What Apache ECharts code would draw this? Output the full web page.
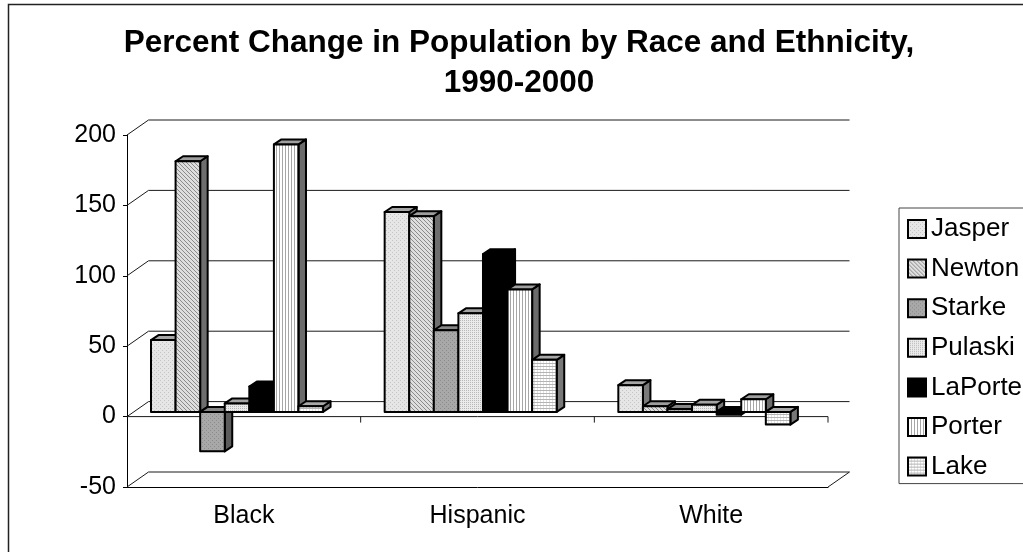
<!DOCTYPE html>
<html>
<head>
<meta charset="utf-8">
<script src="https://cdn.jsdelivr.net/npm/echarts@6/dist/echarts.min.js"></script>
<style>
  html, body { margin: 0; padding: 0; background: #fff; }
  #chart { width: 1023px; height: 552px; }
</style>
</head>
<body>
<div id="chart"></div>
<script>
// Percent change in population, 1990-2000, by race/ethnicity and county
const categories = ['Black', 'Hispanic', 'White'];
const counties = ['Jasper', 'Newton', 'Starke', 'Pulaski', 'LaPorte', 'Porter', 'Lake'];
const jasper  = [51, 142, 19];
const newton  = [178, 139, 4];
const starke  = [-28, 58, 2];
const pulaski = [6, 70, 5];
const laporte = [18, 112, -2];
const porter  = [190, 87, 9];
const lake    = [4, 37, -9];
const yTicks  = [-50, 0, 50, 100, 150, 200];

const countyValues = [jasper, newton, starke, pulaski, laporte, porter, lake];

const FONT = '"Liberation Sans", Arial, Helvetica, sans-serif';

// 3D look: wall depth, bar plane offset and bar depth (pixels)
const WALL_DX = 21.5, WALL_DY = -15;
const PLANE_DY = -4.7;
const BAR_DX = 7.5, BAR_DY = -5;
const CLUSTER_START = 0.1027;   // fraction of a category before the first bar
const BAR_FRAC = 0.1052;        // bar width as a fraction of a category

function pattern(w, h, bg, px) {
  const c = document.createElement('canvas');
  c.width = w; c.height = h;
  const g = c.getContext('2d');
  g.fillStyle = bg; g.fillRect(0, 0, w, h);
  px.forEach(([x, y, col]) => { g.fillStyle = col; g.fillRect(x, y, 1, 1); });
  return { image: c, repeat: 'repeat' };
}

const fills = [
  pattern(4, 4, '#e6e6e6', [[0,0,'#c4c4c4'],[2,2,'#c4c4c4']]),
  pattern(4, 4, '#dedede', [[0,0,'#8a8a8a'],[1,1,'#8a8a8a'],[2,2,'#8a8a8a'],[3,3,'#8a8a8a']]),
  pattern(4, 4, '#a8a8a8', [[0,0,'#8c8c8c'],[2,2,'#8c8c8c']]),
  pattern(2, 2, '#ebebeb', [[0,0,'#b8b8b8']]),
  '#000000',
  pattern(3, 1, '#ffffff', [[0,0,'#a6a6a6']]),
  pattern(3, 3, '#ffffff', [[0,0,'#b4b4b4'],[1,0,'#b4b4b4'],[2,0,'#b4b4b4'],[0,1,'#e2e2e2'],[0,2,'#e2e2e2']])
];
const topFills  = ['#a6a6a6', '#9e9e9e', '#868686', '#a4a4a4', '#000000', '#a0a0a0', '#a8a8a8'];
const sideFills = ['#7a7a7a', '#6e6e6e', '#5c5c5c', '#787878', '#000000', '#6c6c6c', '#787878'];

function renderFrame(params, api) {
  const catW = api.size([1, 0])[0];
  const xL = api.coord([0, 0])[0] - catW / 2;
  const xR = api.coord([categories.length - 1, 0])[0] + catW / 2;
  const children = [];
  const ln = (x1, y1, x2, y2) => children.push({
    type: 'line', shape: { x1, y1, x2, y2 },
    style: { stroke: '#1a1a1a', lineWidth: 1 }
  });
  yTicks.forEach(t => {
    const y = api.coord([0, t])[1];
    ln(xL, y, xL + WALL_DX, y + WALL_DY);
    ln(xL + WALL_DX, y + WALL_DY, xR + WALL_DX, y + WALL_DY);
  });
  const yMin = api.coord([0, yTicks[0]])[1];
  ln(xR, yMin, xR + WALL_DX, yMin + WALL_DY);
  const y0 = api.coord([0, 0])[1];
  ln(xL, y0, xR, y0);
  for (let i = 1; i <= categories.length; i++) {
    const x = xL + i * catW;
    ln(x, y0, x, y0 + 6);
  }
  return { type: 'group', children };
}

function barRenderer(s) {
  return function (params, api) {
    const cat = api.value(0), val = api.value(1);
    const catW = api.size([1, 0])[0];
    const w = catW * BAR_FRAC;
    const left = api.coord([cat, 0])[0] - catW / 2 + catW * CLUSTER_START + s * w;
    const yZero = api.coord([cat, 0])[1] + PLANE_DY;
    const yVal = api.coord([cat, val])[1] + PLANE_DY;
    const top = Math.min(yZero, yVal), bot = Math.max(yZero, yVal);
    const r = left + w;
    const line = { stroke: '#000', lineWidth: 2, lineJoin: 'round' };
    return {
      type: 'group',
      children: [
        { type: 'polygon', shape: { points: [[r, top], [r + BAR_DX, top + BAR_DY], [r + BAR_DX, bot + BAR_DY], [r, bot]] },
          style: Object.assign({ fill: sideFills[s] }, line) },
        { type: 'polygon', shape: { points: [[left, top], [left + BAR_DX, top + BAR_DY], [r + BAR_DX, top + BAR_DY], [r, top]] },
          style: Object.assign({ fill: topFills[s] }, line) },
        { type: 'rect', shape: { x: left, y: top, width: w, height: bot - top },
          style: Object.assign({ fill: fills[s] }, line) }
      ]
    };
  };
}

const series = [{
  type: 'custom', name: 'frame', silent: true, clip: false, z: 1,
  renderItem: renderFrame, data: [[0, 0]]
}];
counties.forEach((name, s) => {
  series.push({
    type: 'custom', name, silent: true, clip: false, z: 2,
    itemStyle: { color: fills[s], borderColor: '#000', borderWidth: 2 },
    renderItem: barRenderer(s),
    data: categories.map((c, i) => [i, countyValues[s][i]])
  });
});

const chart = echarts.init(document.getElementById('chart'), null, { renderer: 'canvas' });
chart.setOption({
  animation: false,
  backgroundColor: '#fff',
  textStyle: { fontFamily: FONT },
  graphic: [{
    type: 'rect', silent: true, z: 0,
    shape: { x: 8.5, y: 4.5, width: 1100, height: 600 },
    style: { fill: 'none', stroke: '#222', lineWidth: 1.5 }
  }],
  title: {
    text: 'Percent Change in Population by Race and Ethnicity,\n1990-2000',
    left: 519, top: 23, textAlign: 'center', padding: 0,
    textStyle: { fontFamily: FONT, fontSize: 31.5, fontWeight: 'bold', color: '#000', lineHeight: 40 }
  },
  legend: {
    data: counties, orient: 'vertical', left: 899, top: 208,
    padding: [8, 20, 4, 8], itemWidth: 18, itemHeight: 18, itemGap: 13.6,
    icon: 'rect', selectedMode: false,
    borderColor: '#444', borderWidth: 1, backgroundColor: '#fff',
    itemStyle: { borderColor: '#000', borderWidth: 2 },
    textStyle: { fontFamily: FONT, fontSize: 26, color: '#000', lineHeight: 26 }
  },
  grid: { left: 127, right: 195, top: 135, bottom: 65 },
  xAxis: {
    type: 'category', data: categories,
    axisLine: { onZero: false, lineStyle: { color: '#000', width: 1 } },
    axisTick: { length: 6, lineStyle: { color: '#000' } },
    axisLabel: { fontFamily: FONT, fontSize: 25, color: '#000', margin: 17 },
    splitLine: { show: false }
  },
  yAxis: {
    type: 'value', min: -50, max: 200, interval: 50,
    axisLine: { show: true, lineStyle: { color: '#000', width: 1 } },
    axisTick: { show: true, length: 4, lineStyle: { color: '#000' } },
    axisLabel: { fontFamily: FONT, fontSize: 25, color: '#000', margin: 11 },
    splitLine: { show: false }
  },
  series
});
</script>
</body>
</html>
